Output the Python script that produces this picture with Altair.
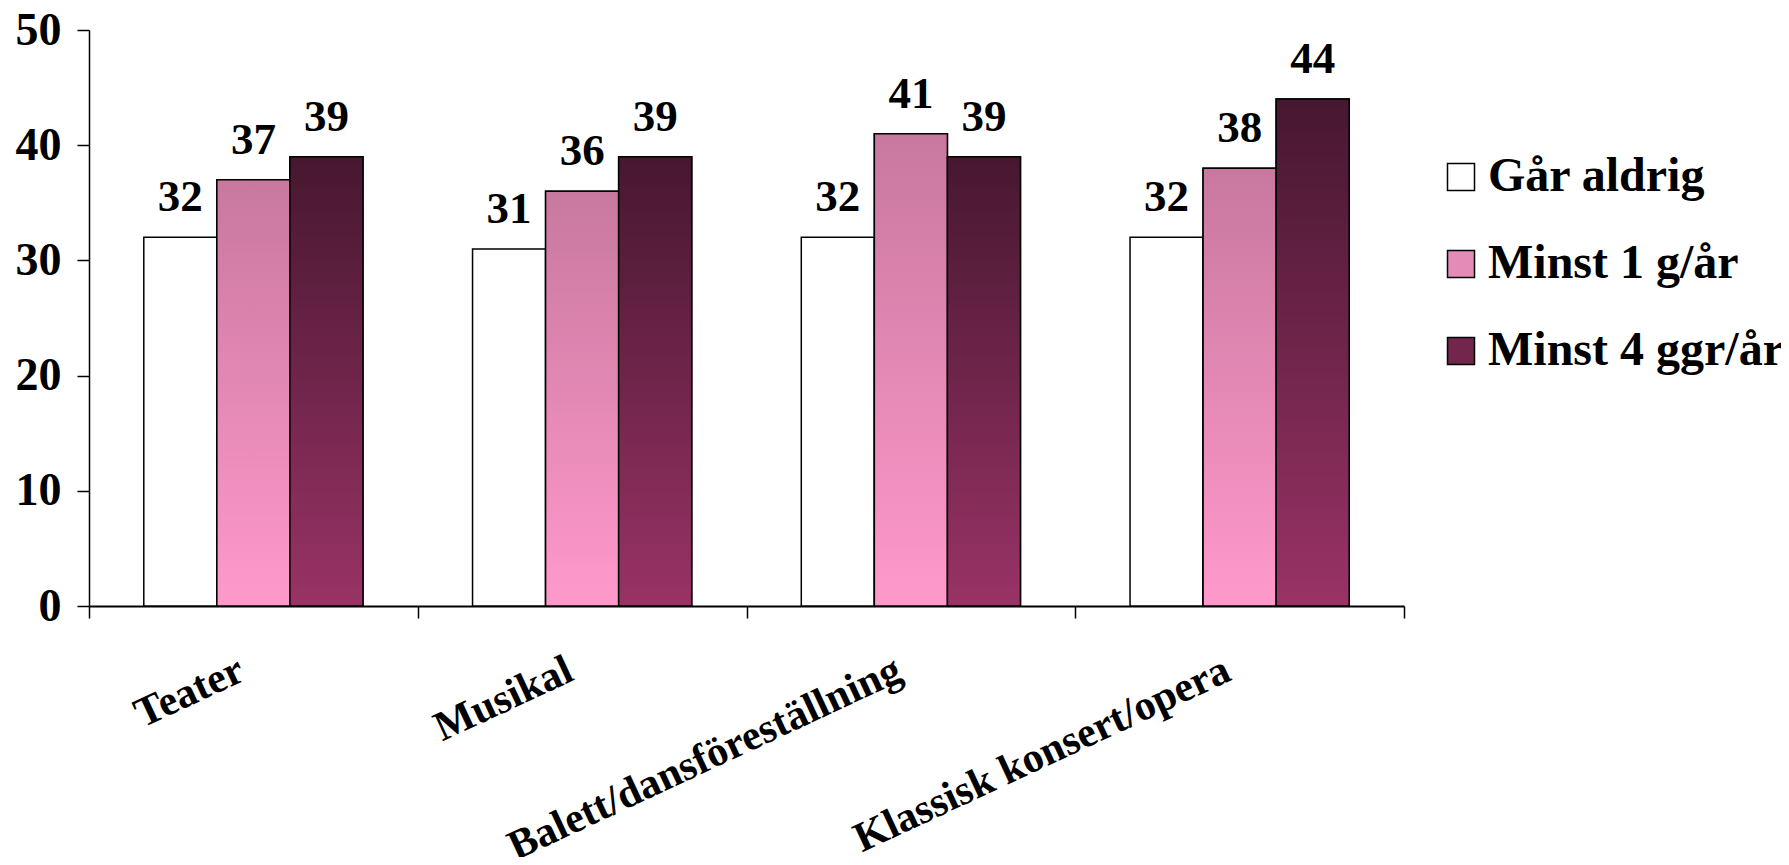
import altair as alt
import pandas as pd

categories = ["Teater", "Musikal", "Balett/dansföreställning", "Klassisk konsert/opera"]
series = ["Går aldrig", "Minst 1 g/år", "Minst 4 ggr/år"]
gar_aldrig = [32, 31, 32, 32]
minst_1 = [37, 36, 41, 38]
minst_4 = [39, 39, 39, 44]
y_ticks = [0, 10, 20, 30, 40, 50]

rows = []
for s, vals in zip(series, [gar_aldrig, minst_1, minst_4]):
    for c, v in zip(categories, vals):
        rows.append({"kategori": c, "grupp": s, "andel": v})
df = pd.DataFrame(rows)

FONT = "Liberation Serif"

x = alt.X(
    "kategori:N", sort=categories,
    scale=alt.Scale(domain=categories, paddingInner=0, paddingOuter=0),
    axis=alt.Axis(title=None, labelAngle=335, labelAlign="right", labelBaseline="top",
                  labelFontSize=42, labelFont=FONT, labelFontWeight="bold", labelColor="black",
                  labelPadding=31, labelOffset=-21, tickBand="extent", tickSize=12,
                  tickColor="black", tickWidth=1.5, domainColor="black", domainWidth=2,
                  labelLimit=700),
)
xoff = alt.XOffset("grupp:N", sort=series,
                   scale=alt.Scale(domain=series, paddingOuter=0.75, paddingInner=0))
y = alt.Y(
    "andel:Q", scale=alt.Scale(domain=[0, 50]),
    axis=alt.Axis(values=y_ticks, title=None, grid=False, tickSize=12, tickColor="black",
                  tickWidth=1.5, domainColor="black", domainWidth=1.5, labelFontSize=46,
                  labelFont=FONT, labelFontWeight="bold", labelColor="black", labelPadding=16),
)

base = alt.Chart(df)

solid = base.mark_bar(stroke="black", strokeWidth=1.5).encode(
    x=x, xOffset=xoff, y=y,
    fill=alt.Fill("grupp:N", sort=series,
                  scale=alt.Scale(domain=series, range=["#ffffff", "#e48cb8", "#72264b"]),
                  legend=alt.Legend(title=None, orient="none", legendX=1348, legendY=123,
                                    symbolType="square", symbolSize=729,
                                    symbolStrokeColor="black", symbolStrokeWidth=1.5,
                                    labelFontSize=48, labelFont=FONT, labelFontWeight="bold",
                                    labelColor="black", rowPadding=39, labelOffset=3,
                                    padding=0, labelLimit=600)),
)

def grad(top, bottom):
    return alt.Gradient(gradient="linear", x1=0, x2=0, y1=0, y2=1,
                        stops=[alt.GradientStop(color=top, offset=0),
                               alt.GradientStop(color=bottom, offset=1)])

pink = base.transform_filter(alt.datum.grupp == series[1]).mark_bar(
    fill=grad("#c8789e", "#ff99cc"), stroke="black", strokeWidth=1.5
).encode(x=x, xOffset=xoff, y=y)

dark = base.transform_filter(alt.datum.grupp == series[2]).mark_bar(
    fill=grad("#471730", "#993366"), stroke="black", strokeWidth=1.5
).encode(x=x, xOffset=xoff, y=y)

labels = base.mark_text(dy=-26, baseline="alphabetic", fontSize=45, font=FONT,
                        fontWeight="bold", color="black").encode(
    x=x, xOffset=xoff, y=y, text="andel:Q")

chart = alt.layer(solid, pink, dark, labels).properties(
    width=1315, height=576,
    autosize=alt.AutoSizeParams(type="none"),
    padding={"left": 81, "top": 22, "right": 377, "bottom": 251},
).configure_view(stroke=None)

chart.save("out.html", embed_options={"renderer": "svg", "actions": False})
